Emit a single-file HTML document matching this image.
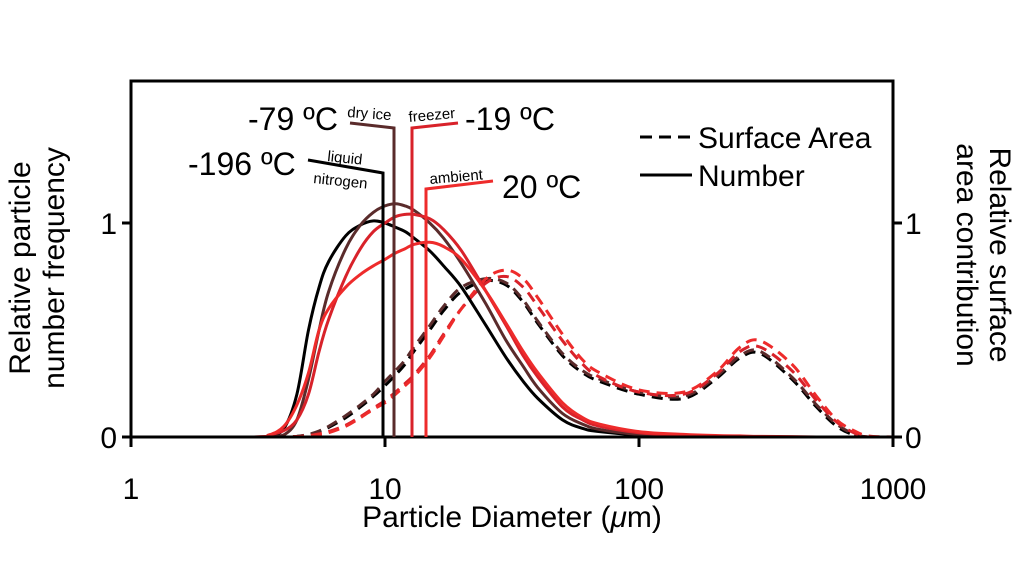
<!DOCTYPE html>
<html><head><meta charset="utf-8"><style>
body{margin:0;background:#fff;}
svg{display:block;font-family:"Liberation Sans",Arial,sans-serif;}
</style></head><body>
<svg id="chart" width="1014" height="576" viewBox="0 0 1014 576">
<g id="marks"></g>
<g id="axes" stroke="#000" stroke-width="3" fill="none">
<rect x="131" y="81" width="762" height="356"/>
</g>
<g id="ticks"></g>
<g font-size="30" text-anchor="middle">
<text transform="translate(30,268) rotate(-90)">Relative particle</text>
<text transform="translate(64,268) rotate(-90)">number frequency</text>
</g>
<g font-size="30" text-anchor="middle">
<text transform="translate(957,255) rotate(90)">area contribution</text>
<text transform="translate(990,255) rotate(90)">Relative surface</text>
</g>
<text x="512" y="527" font-size="30" text-anchor="middle">Particle Diameter (<tspan font-style="italic">μ</tspan>m)</text>
<g>
<line x1="640" y1="137" x2="692" y2="137" stroke="#000" stroke-width="3" stroke-dasharray="12,7"/>
<text x="698" y="148" font-size="30">Surface Area</text>
<line x1="640" y1="175" x2="692" y2="175" stroke="#000" stroke-width="3"/>
<text x="698" y="186" font-size="30">Number</text>
</g>
<g font-size="32">
<text x="248" y="130">-79 ºC</text>
<text x="347" y="117" font-size="15" transform="rotate(4,347,117)">dry ice</text>
<polyline points="350,123 394,128 394,437" fill="none" stroke="#5a2b2b" stroke-width="3"/>
<text x="409" y="122" font-size="15" transform="rotate(-5,409,122)">freezer</text>
<polyline points="458,123 412,128 412,437" fill="none" stroke="#d8222a" stroke-width="3"/>
<text x="465" y="130">-19 ºC</text>
<text x="188" y="175">-196 ºC</text>
<text x="327" y="161" font-size="15" transform="rotate(6,327,161)">liquid</text>
<text x="313" y="183" font-size="15" transform="rotate(6,313,183)">nitrogen</text>
<polyline points="308,160 383,173 383,437" fill="none" stroke="#000" stroke-width="3"/>
<text x="430" y="184" font-size="15" transform="rotate(-5,430,184)">ambient</text>
<polyline points="493,181 426,189 426,437" fill="none" stroke="#ee2b2b" stroke-width="3"/>
<text x="502" y="198">20 ºC</text>
</g>
</svg>
<script>
const diameters=[1,3,3.5,4,4.5,5,5.5,6,7,8,9,10,11,12,13,15,17,20,25,30,35,40,50,60,70,100,150,200,250,300,400,500,600,700,800,1000];
const numBlack=[0,0,0.003,0.04,0.2,0.5,0.7,0.82,0.94,0.99,1.01,1.0,0.98,0.96,0.93,0.87,0.8,0.7,0.52,0.37,0.26,0.18,0.08,0.04,0.025,0.01,0.003,0,0,0,0,0,0,0,0,0];
const numBrown=[0,0,0,0.01,0.08,0.27,0.5,0.68,0.88,0.99,1.05,1.08,1.09,1.08,1.06,1.0,0.93,0.81,0.62,0.45,0.33,0.23,0.11,0.06,0.035,0.012,0.004,0,0,0,0,0,0,0,0,0];
const numRed19=[0,0,0.01,0.03,0.08,0.2,0.4,0.55,0.75,0.88,0.96,1.0,1.03,1.04,1.04,1.02,0.97,0.87,0.68,0.52,0.38,0.28,0.14,0.08,0.05,0.02,0.008,0.004,0.002,0,0,0,0,0,0,0];
const numRed20=[0,0,0.01,0.05,0.15,0.3,0.5,0.6,0.7,0.76,0.8,0.83,0.86,0.88,0.9,0.91,0.89,0.83,0.68,0.53,0.4,0.3,0.16,0.09,0.06,0.025,0.012,0.007,0.005,0.003,0.002,0,0,0,0,0];
const saBlack=[0,0,0,0,0.003,0.01,0.025,0.045,0.09,0.14,0.19,0.24,0.29,0.34,0.4,0.5,0.59,0.68,0.73,0.71,0.63,0.53,0.38,0.3,0.26,0.2,0.18,0.27,0.37,0.39,0.27,0.14,0.05,0.01,0,0];
const saBrown=[0,0,0,0,0.003,0.012,0.028,0.05,0.1,0.15,0.2,0.26,0.31,0.36,0.42,0.52,0.61,0.7,0.74,0.72,0.64,0.54,0.39,0.31,0.27,0.21,0.19,0.28,0.38,0.4,0.28,0.15,0.06,0.015,0,0];
const saRed19=[0,0,0,0,0.002,0.006,0.015,0.025,0.055,0.095,0.135,0.17,0.21,0.25,0.29,0.38,0.48,0.6,0.72,0.75,0.7,0.61,0.45,0.34,0.28,0.21,0.2,0.29,0.4,0.42,0.31,0.17,0.07,0.02,0,0];
const saRed20=[0,0,0,0,0.002,0.005,0.012,0.02,0.05,0.09,0.13,0.16,0.2,0.24,0.28,0.37,0.47,0.6,0.74,0.78,0.74,0.65,0.48,0.36,0.3,0.22,0.21,0.3,0.42,0.45,0.34,0.19,0.08,0.03,0.005,0];
const xTickValues=[1,10,100,1000];
const xTickLabels=["1","10","100","1000"];
const yTickValues=[0,1];
const yTickLabels=["0","1"];

const X0=131,X1=893,Y0=437,Y1=223;
function xScale(d){return X0+Math.log10(d)/3*(X1-X0);}
function yScale(v){return Y0-v*(Y0-Y1);}
const NS="http://www.w3.org/2000/svg";
function pathFrom(vals){
  const pts=diameters.map((d,i)=>[xScale(d),yScale(vals[i])]);
  let s="M"+pts[0][0].toFixed(1)+","+pts[0][1].toFixed(1);
  for(let i=0;i<pts.length-1;i++){
    const p0=pts[Math.max(0,i-1)],p1=pts[i],p2=pts[i+1],p3=pts[Math.min(pts.length-1,i+2)];
    const c1=[p1[0]+(p2[0]-p0[0])/6,p1[1]+(p2[1]-p0[1])/6];
    const c2=[p2[0]-(p3[0]-p1[0])/6,p2[1]-(p3[1]-p1[1])/6];
    s+="C"+c1[0].toFixed(1)+","+Math.min(Y0,c1[1]).toFixed(1)+" "+c2[0].toFixed(1)+","+Math.min(Y0,c2[1]).toFixed(1)+" "+p2[0].toFixed(1)+","+p2[1].toFixed(1);
  }
  return s;
}
const marks=document.getElementById('marks');
const series=[
 [saBlack,"#000","surface-area-minus196",true],
 [saBrown,"#5a2b2b","surface-area-minus79",true],
 [saRed19,"#d8222a","surface-area-minus19",true],
 [saRed20,"#ee2b2b","surface-area-20",true],
 [numBlack,"#000","number-minus196",false],
 [numBrown,"#5a2b2b","number-minus79",false],
 [numRed19,"#d8222a","number-minus19",false],
 [numRed20,"#ee2b2b","number-20",false]
];
series.forEach(s=>{
  const p=document.createElementNS(NS,'path');
  p.setAttribute('d',pathFrom(s[0]));
  p.setAttribute('fill','none');
  p.setAttribute('stroke',s[1]);
  p.setAttribute('stroke-width','3');
  if(s[3])p.setAttribute('stroke-dasharray','11,7');
  
  
  marks.appendChild(p);
});
const ticks=document.getElementById('ticks');
xTickValues.forEach((v,i)=>{
  const x=xScale(v);
  const l=document.createElementNS(NS,'line');
  l.setAttribute('x1',x);l.setAttribute('x2',x);l.setAttribute('y1',Y0);l.setAttribute('y2',Y0+10);
  l.setAttribute('stroke','#000');l.setAttribute('stroke-width','3');
  
  
  ticks.appendChild(l);
  const t=document.createElementNS(NS,'text');
  t.setAttribute('x',x);t.setAttribute('y',499);t.setAttribute('font-size','30');t.setAttribute('text-anchor','middle');
  t.textContent=xTickLabels[i];
  
  
  ticks.appendChild(t);
});
yTickValues.forEach((v,i)=>{
  const y=yScale(v);
  [[X0-9,X0,X0-14,'end','left'],[X1,X1+9,X1+12,'start','right']].forEach(a=>{
    const l=document.createElementNS(NS,'line');
    l.setAttribute('x1',a[0]);l.setAttribute('x2',a[1]);l.setAttribute('y1',y);l.setAttribute('y2',y);
    l.setAttribute('stroke','#000');l.setAttribute('stroke-width','3');
    
    
    ticks.appendChild(l);
    const t=document.createElementNS(NS,'text');
    t.setAttribute('x',a[2]);t.setAttribute('y',y+11);t.setAttribute('font-size','30');t.setAttribute('text-anchor',a[3]);
    t.textContent=yTickLabels[i];
    
    
    ticks.appendChild(t);
  });
});
</script>
</body></html>
